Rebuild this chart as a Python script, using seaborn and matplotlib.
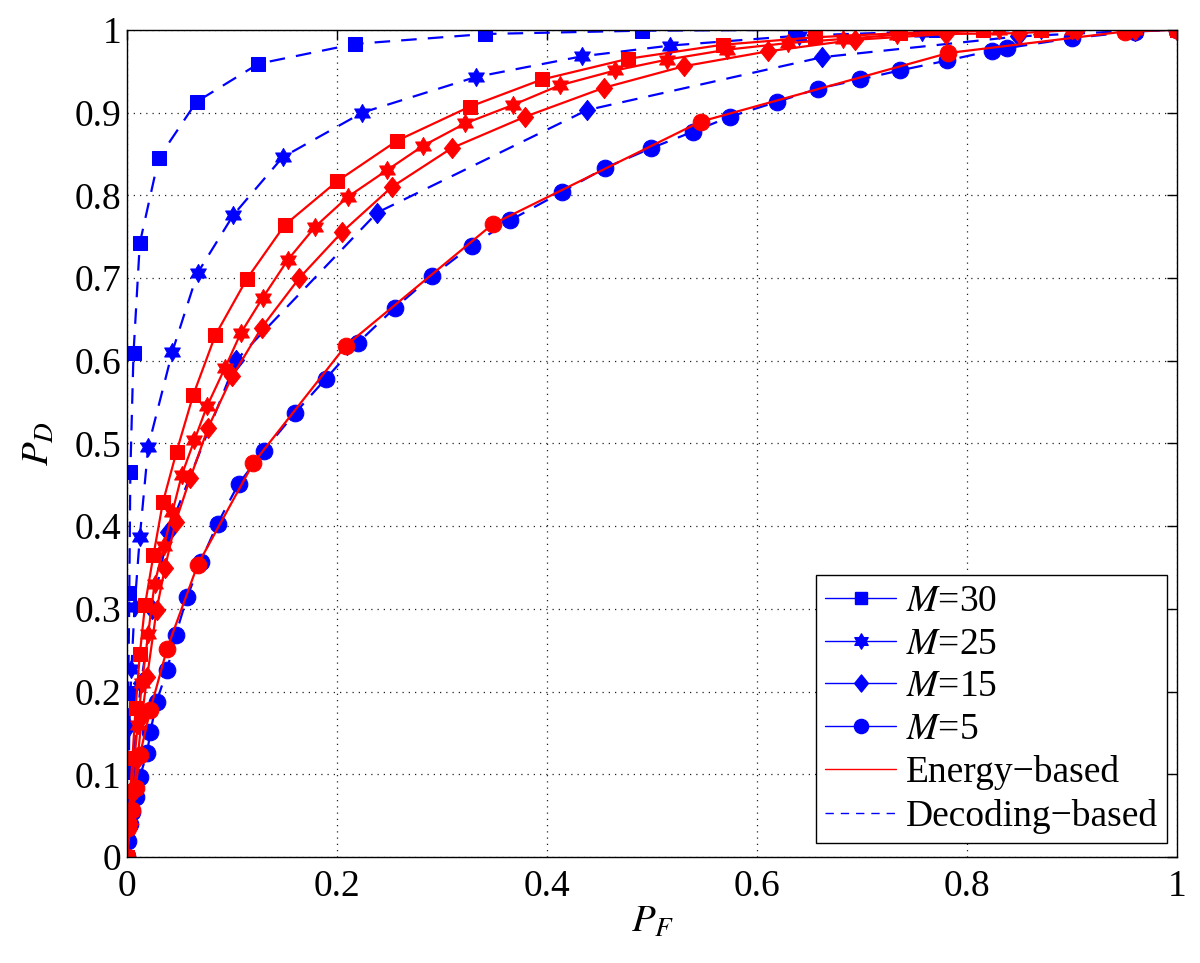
import numpy as np
import pandas as pd
import seaborn as sns
import matplotlib.pyplot as plt
from matplotlib.lines import Line2D
from matplotlib.path import Path as MPath

# ---- data (P_F, P_D) ----
dec30_pf = [0, 0.0005, 0.001, 0.002, 0.003, 0.006, 0.012, 0.030, 0.066, 0.125, 0.217, 0.341, 0.490, 0.636, 0.77, 0.87, 0.96, 1.0]
dec30_pd = [0, 0.103, 0.198, 0.319, 0.466, 0.609, 0.742, 0.845, 0.913, 0.959, 0.983, 0.995, 0.999, 1, 1, 1, 1, 1]

dec25_pf = [0, 0.001, 0.002, 0.004, 0.007, 0.012, 0.020, 0.043, 0.067, 0.101, 0.148, 0.224, 0.332, 0.433, 0.517, 0.64, 0.757, 0.87, 0.96, 1.0]
dec25_pd = [0, 0.06, 0.157, 0.227, 0.302, 0.387, 0.496, 0.611, 0.706, 0.776, 0.846, 0.900, 0.943, 0.968, 0.981, 0.993, 0.998, 1, 1, 1]

dec15_pf = [0, 0.002, 0.006, 0.013, 0.024, 0.039, 0.104, 0.238, 0.438, 0.662, 0.848, 0.96, 1.0]
dec15_pd = [0, 0.05, 0.12, 0.21, 0.30, 0.393, 0.601, 0.779, 0.903, 0.967, 0.992, 0.999, 1]

dec5_pf = [0, 0.001, 0.003, 0.005, 0.008, 0.012, 0.019, 0.022, 0.028, 0.038, 0.046, 0.057, 0.070, 0.086, 0.106,
           0.130, 0.160, 0.189, 0.220, 0.255, 0.290, 0.328, 0.365, 0.414, 0.455, 0.499, 0.539, 0.574, 0.619,
           0.658, 0.698, 0.736, 0.781, 0.824, 0.838, 0.90, 0.96, 1.0]
dec5_pd = [0, 0.02, 0.04, 0.055, 0.073, 0.097, 0.126, 0.151, 0.188, 0.226, 0.268, 0.314, 0.357, 0.403, 0.451,
           0.491, 0.537, 0.578, 0.622, 0.664, 0.702, 0.739, 0.770, 0.804, 0.833, 0.857, 0.877, 0.895, 0.913,
           0.929, 0.940, 0.951, 0.963, 0.975, 0.978, 0.99, 0.998, 1.0]

en30_pf = [0, 0.001, 0.003, 0.005, 0.008, 0.012, 0.017, 0.025, 0.034, 0.047, 0.063, 0.084, 0.114, 0.150, 0.200,
           0.257, 0.326, 0.395, 0.477, 0.567, 0.655, 0.736, 0.815, 0.87, 0.95, 1.0]
en30_pd = [0, 0.04, 0.08, 0.12, 0.18, 0.245, 0.305, 0.365, 0.429, 0.490, 0.559, 0.631, 0.699, 0.764, 0.817,
           0.866, 0.907, 0.940, 0.965, 0.982, 0.991, 0.996, 1.0, 1, 1, 1]

en25_pf = [0, 0.002, 0.004, 0.007, 0.010, 0.014, 0.020, 0.026, 0.035, 0.043, 0.052, 0.064, 0.076, 0.093, 0.108,
           0.129, 0.153, 0.179, 0.210, 0.247, 0.282, 0.322, 0.367, 0.412, 0.465, 0.514, 0.571, 0.629, 0.682,
           0.733, 0.83, 0.90, 0.96, 1.0]
en25_pd = [0, 0.04, 0.08, 0.12, 0.16, 0.21, 0.27, 0.33, 0.376, 0.417, 0.462, 0.504, 0.545, 0.591, 0.633,
           0.676, 0.722, 0.762, 0.798, 0.830, 0.860, 0.887, 0.909, 0.933, 0.951, 0.964, 0.976, 0.984, 0.989,
           0.994, 1, 1, 1, 1]

en15_pf = [0, 0.003, 0.006, 0.010, 0.014, 0.019, 0.028, 0.036, 0.046, 0.060, 0.077, 0.100, 0.128, 0.164, 0.205,
           0.252, 0.309, 0.379, 0.454, 0.530, 0.610, 0.693, 0.78, 0.849, 0.905, 0.96, 1.0]
en15_pd = [0, 0.04, 0.08, 0.12, 0.17, 0.218, 0.299, 0.350, 0.405, 0.458, 0.519, 0.581, 0.640, 0.700, 0.756,
           0.810, 0.857, 0.895, 0.930, 0.956, 0.974, 0.988, 0.995, 0.996, 1, 1, 1]

en5_pf = [0, 0.001, 0.005, 0.008, 0.012, 0.022, 0.038, 0.067, 0.120, 0.208, 0.348, 0.546, 0.782, 0.95, 1.0]
en5_pd = [0, 0.035, 0.057, 0.083, 0.123, 0.178, 0.252, 0.353, 0.476, 0.618, 0.765, 0.889, 0.972, 0.998, 1]

legend_labels = ["$M$=30", "$M$=25", "$M$=15", "$M$=5", "Energy−based", "Decoding−based"]

# MATLAB-like markers: six-pointed hexagram and a tall diamond
ang = np.pi / 2 + np.arange(12) * np.pi / 6
rad = np.where(np.arange(12) % 2 == 0, 1.0, 0.577)
hex_verts = list(zip(rad * np.cos(ang), rad * np.sin(ang))) + [(0, 1)]
hexagram = MPath(hex_verts, [MPath.MOVETO] + [MPath.LINETO] * 11 + [MPath.CLOSEPOLY])
diamond = MPath([(0, 1), (0.8, 0), (0, -1), (-0.8, 0), (0, 1)],
                [MPath.MOVETO, MPath.LINETO, MPath.LINETO, MPath.LINETO, MPath.CLOSEPOLY])
markers = ["s", hexagram, diamond, "o"]
msizes = [10.5, 13, 14.5, 12]

sns.set_style("white")
plt.rcParams['font.family'] = ['Liberation Serif', 'DejaVu Serif']
plt.rcParams['mathtext.fontset'] = 'stix'
plt.rcParams['text.color'] = 'black'
plt.rcParams['axes.labelcolor'] = 'black'
plt.rcParams['xtick.color'] = 'black'
plt.rcParams['ytick.color'] = 'black'

fig = plt.figure(figsize=(12, 9.63), dpi=100)
ax = fig.add_axes([0.106, 0.110, 0.875, 0.859])

decoding = [(dec30_pf, dec30_pd), (dec25_pf, dec25_pd), (dec15_pf, dec15_pd), (dec5_pf, dec5_pd)]
energy = [(en30_pf, en30_pd), (en25_pf, en25_pd), (en15_pf, en15_pd), (en5_pf, en5_pd)]

for (pf, pd_), mk, ms in zip(decoding, markers, msizes):
    df = pd.DataFrame({'pf': pf, 'pd': pd_})
    sns.lineplot(data=df, x='pf', y='pd', ax=ax, color='#0000ff', linewidth=1.6,
                 marker=mk, markersize=ms, markeredgecolor='#0000ff', estimator=None,
                 sort=False, linestyle=(0, (7, 5)))

for (pf, pd_), mk, ms in zip(energy, markers, msizes):
    df = pd.DataFrame({'pf': pf, 'pd': pd_})
    sns.lineplot(data=df, x='pf', y='pd', ax=ax, color='#ff0000', linewidth=1.6,
                 marker=mk, markersize=ms, markeredgecolor='#ff0000', estimator=None,
                 sort=False)

ax.set_xlim(0, 1)
ax.set_ylim(0, 1)
ax.set_xticks(np.arange(0, 1.01, 0.2))
ax.set_yticks(np.arange(0, 1.01, 0.1))
ax.set_xticklabels(['0', '0.2', '0.4', '0.6', '0.8', '1'])
ax.set_yticklabels(['0'] + [f'{v:.1f}' for v in np.arange(0.1, 0.95, 0.1)] + ['1'])
ax.tick_params(direction='in', top=True, right=True, labelsize=27, length=7, width=1,
               colors='black')
ax.tick_params(axis='x', pad=9)
ax.tick_params(axis='y', pad=4)
ax.grid(True, linestyle=(0, (1, 4)), color='#222222', linewidth=0.9)
for s in ax.spines.values():
    s.set_color('black')
    s.set_linewidth(1.0)

ax.set_xlabel('$P_F$', fontsize=28, labelpad=0, color='black')
ax.set_ylabel('$P_D$', fontsize=28, labelpad=12, color='black')

handles = [Line2D([0], [0], color='#0000ff', linewidth=1.0, marker=mk, markersize=ms * 0.85,
                  markeredgecolor='#0000ff') for mk, ms in zip(markers, msizes)]
handles.append(Line2D([0], [0], color='#ff0000', linewidth=1.0))
handles.append(Line2D([0], [0], color='#0000ff', linewidth=1.0, linestyle=(0, (6, 5))))
leg = ax.legend(handles, legend_labels, loc='lower right', fontsize=27, frameon=True, fancybox=False,
                edgecolor='black', framealpha=1, handlelength=1.9, handletextpad=0.25,
                labelspacing=0.22, borderpad=0.25, borderaxespad=0,
                bbox_to_anchor=(0.9905, 0.017), labelcolor='black')
leg.get_frame().set_linewidth(1.0)

plt.savefig('out.png', dpi=100)
plt.close()
